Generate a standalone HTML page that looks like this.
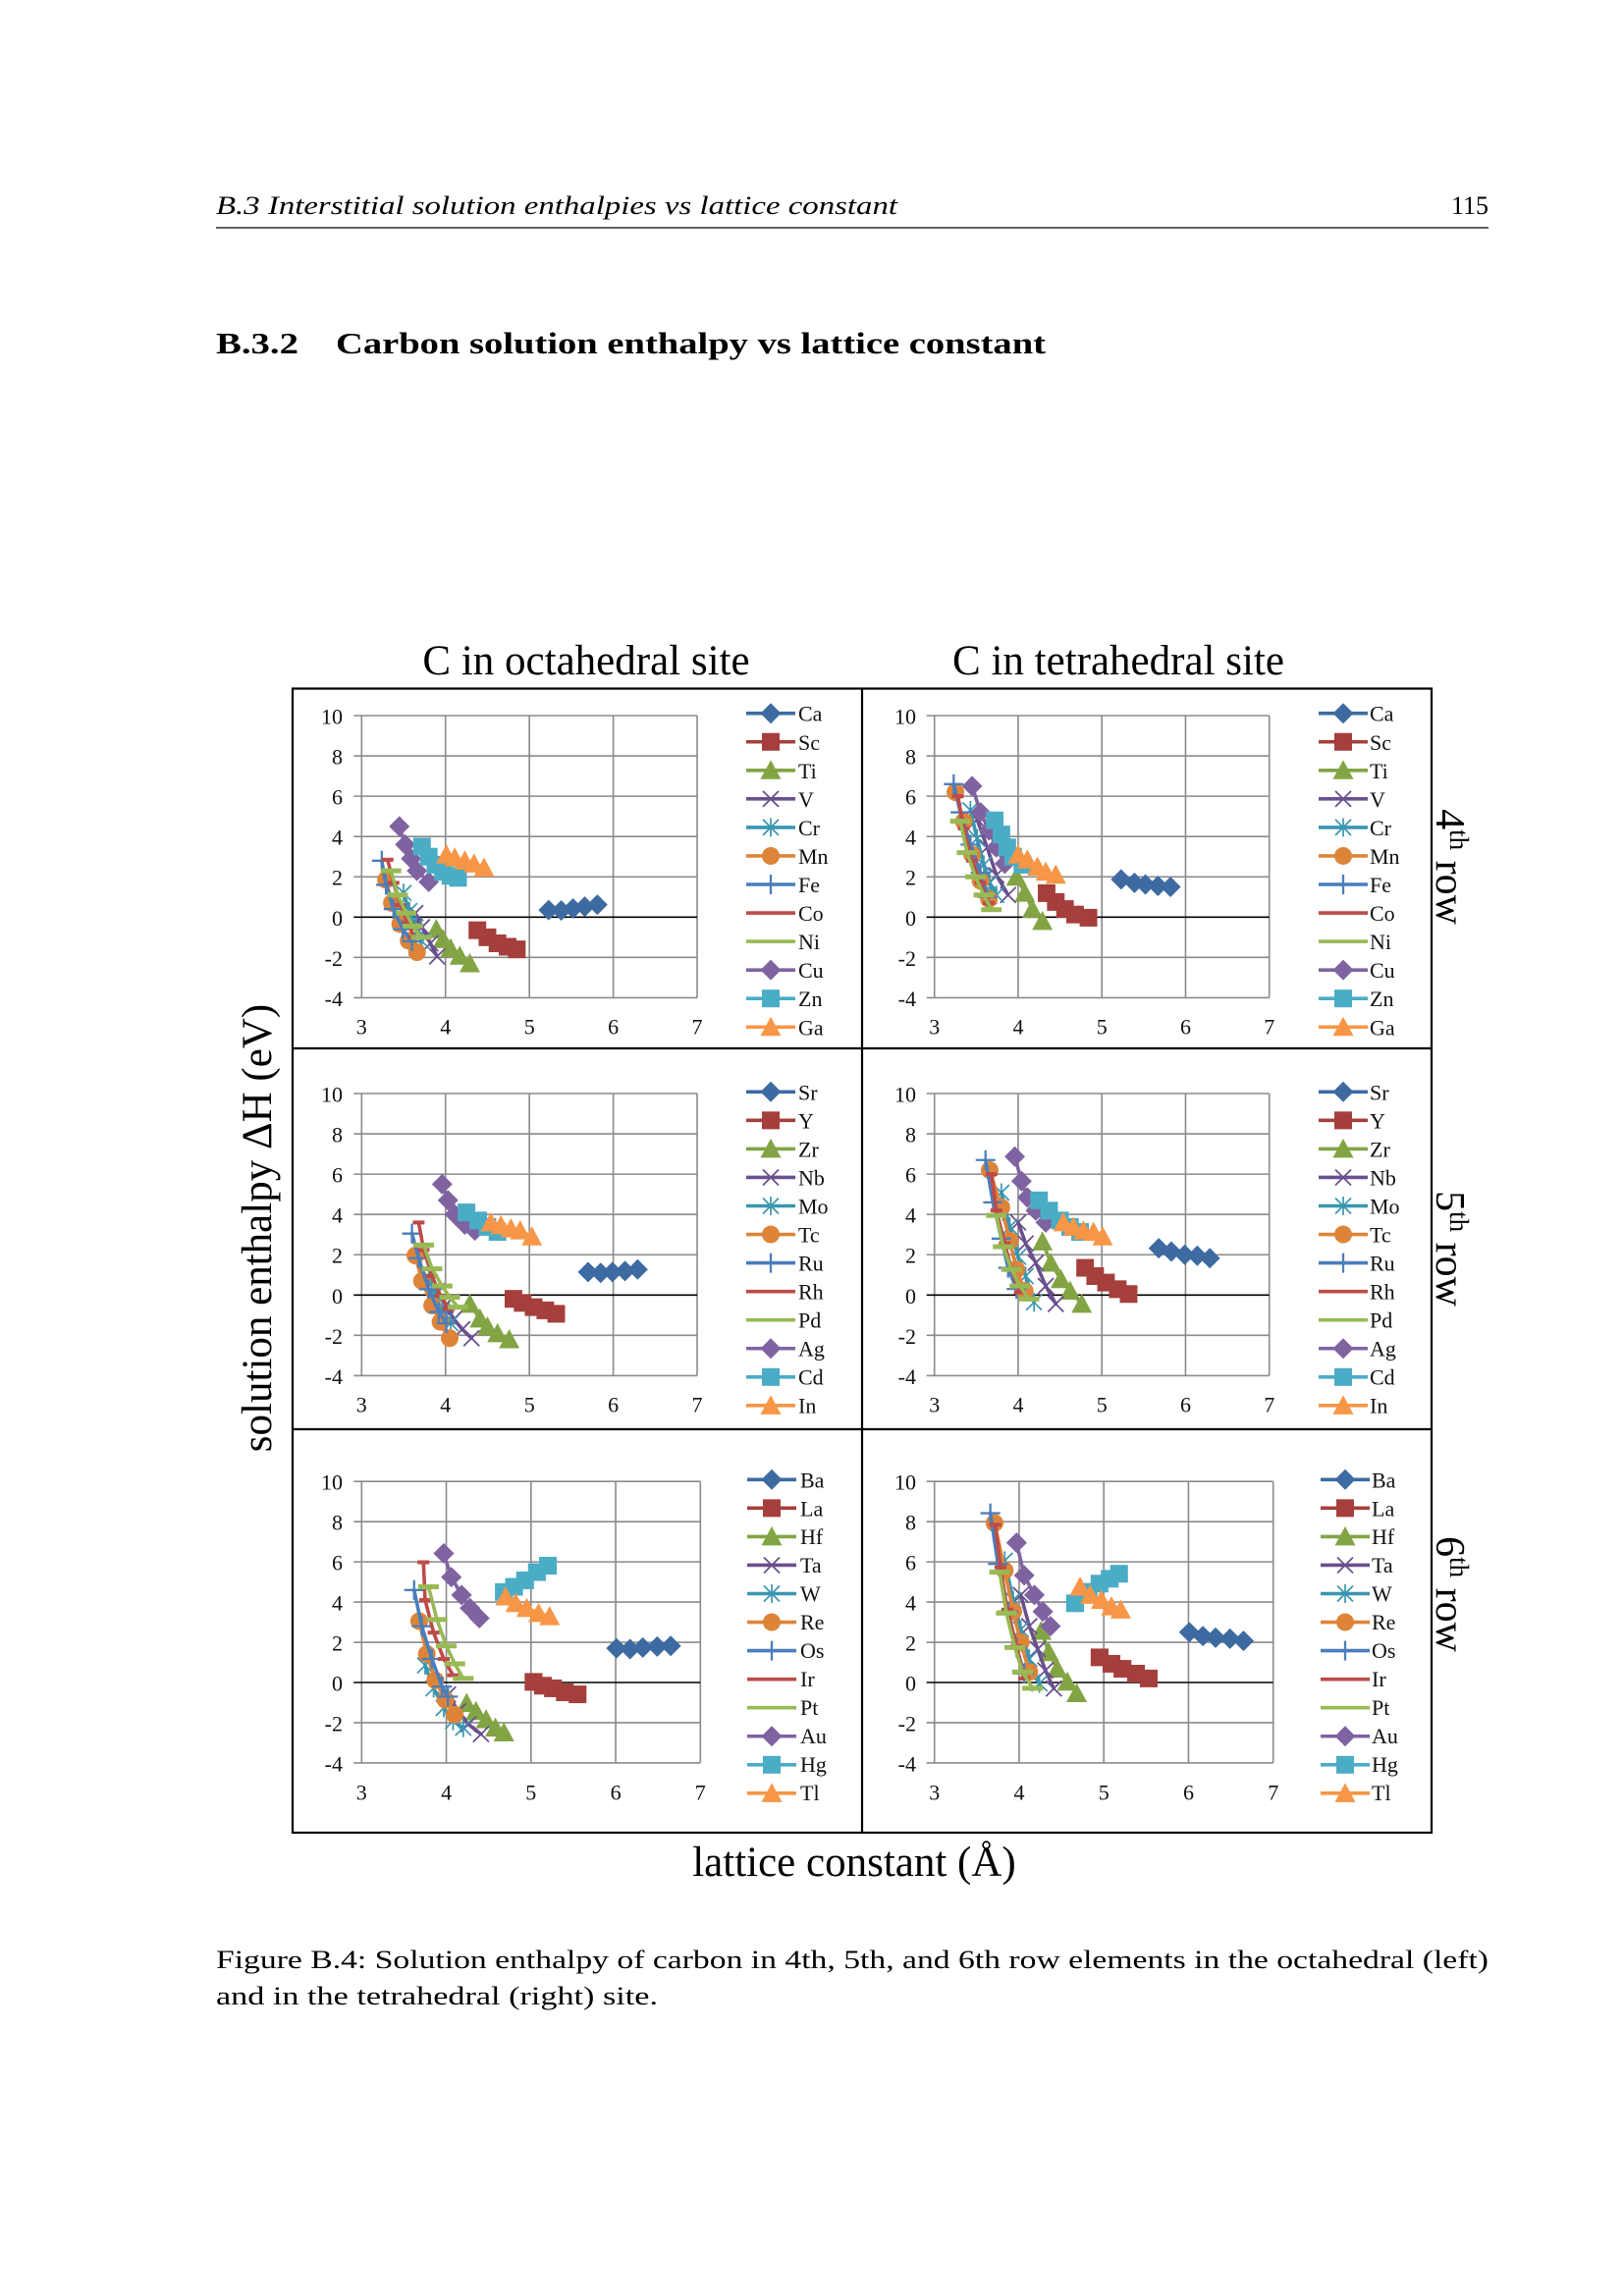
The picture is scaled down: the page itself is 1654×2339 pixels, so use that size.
<!DOCTYPE html>
<html><head><meta charset="utf-8">
<style>
html,body{margin:0;padding:0;background:#fff}
svg{display:block}
text{font-family:"Liberation Serif","Times New Roman",serif}
.ln{fill:none;stroke-width:3.6;vector-effect:non-scaling-stroke;stroke-linejoin:round;stroke-linecap:round}
.mk{fill:none;stroke:none}
.c1{stroke:#3D6AA1}.c2{stroke:#A53F3C}.c3{stroke:#83A444}.c4{stroke:#6A4F8E}.c5{stroke:#3A96B0}.c6{stroke:#DD8439}
.c7{stroke:#4A7EBB}.c8{stroke:#BE4B48}.c9{stroke:#98B954}.c10{stroke:#7F63A1}.c11{stroke:#4BACC6}.c12{stroke:#F79646}
.k1{marker:url(#d1)}.k2{marker:url(#d2)}.k3{marker:url(#d3)}.k4{marker:url(#d4)}.k5{marker:url(#d5)}.k6{marker:url(#d6)}
.k7{marker:url(#d7)}.k8{marker:url(#d8)}.k9{marker:url(#d9)}.k10{marker:url(#d10)}.k11{marker:url(#d11)}.k12{marker:url(#d12)}
.t{font-size:22px;fill:#111}
</style></head>
<body>
<svg width="1654" height="2339" viewBox="0 0 1654 2339" xmlns="http://www.w3.org/2000/svg" font-family="Liberation Serif, serif">
<rect width="1654" height="2339" fill="#fff"/>
<defs>
<polygon id="g1" fill="#3D6AA1" points="0,-10.5 10.5,0 0,10.5 -10.5,0"/>
<rect id="g2" fill="#A53F3C" x="-9" y="-9" width="18" height="18"/>
<polygon id="g3" fill="#83A444" points="0,-10.5 10.5,9 -10.5,9"/>
<path id="g4" stroke="#6A4F8E" stroke-width="1.8" fill="none" d="M-8,-8L8,8M-8,8L8,-8"/>
<path id="g5" stroke="#3A96B0" stroke-width="1.7" fill="none" d="M-8,-8L8,8M-8,8L8,-8M0,-9.5V9.5"/>
<circle id="g6" fill="#DD8439" r="9"/>
<path id="g7" stroke="#4A7EBB" stroke-width="2.3" fill="none" d="M-10,0H10M0,-10V10"/>
<rect id="g8" fill="#BE4B48" x="-6" y="-2" width="12" height="4"/>
<rect id="g9" fill="#98B954" x="-10.5" y="-2.5" width="21" height="5"/>
<polygon id="g10" fill="#7F63A1" points="0,-10.5 10.5,0 0,10.5 -10.5,0"/>
<rect id="g11" fill="#4BACC6" x="-9" y="-9" width="18" height="18"/>
<polygon id="g12" fill="#F79646" points="0,-10.5 10.5,9 -10.5,9"/>

<marker id="d1" markerUnits="userSpaceOnUse" markerWidth="0.1868" markerHeight="0.78" viewBox="-8 -8 16 16" preserveAspectRatio="none" overflow="visible"><use href="#g1"/></marker>
<marker id="d2" markerUnits="userSpaceOnUse" markerWidth="0.1868" markerHeight="0.78" viewBox="-8 -8 16 16" preserveAspectRatio="none" overflow="visible"><use href="#g2"/></marker>
<marker id="d3" markerUnits="userSpaceOnUse" markerWidth="0.1868" markerHeight="0.78" viewBox="-8 -8 16 16" preserveAspectRatio="none" overflow="visible"><use href="#g3"/></marker>
<marker id="d4" markerUnits="userSpaceOnUse" markerWidth="0.1868" markerHeight="0.78" viewBox="-8 -8 16 16" preserveAspectRatio="none" overflow="visible"><use href="#g4"/></marker>
<marker id="d5" markerUnits="userSpaceOnUse" markerWidth="0.1868" markerHeight="0.78" viewBox="-8 -8 16 16" preserveAspectRatio="none" overflow="visible"><use href="#g5"/></marker>
<marker id="d6" markerUnits="userSpaceOnUse" markerWidth="0.1868" markerHeight="0.78" viewBox="-8 -8 16 16" preserveAspectRatio="none" overflow="visible"><use href="#g6"/></marker>
<marker id="d7" markerUnits="userSpaceOnUse" markerWidth="0.1868" markerHeight="0.78" viewBox="-8 -8 16 16" preserveAspectRatio="none" overflow="visible"><use href="#g7"/></marker>
<marker id="d8" markerUnits="userSpaceOnUse" markerWidth="0.1868" markerHeight="0.78" viewBox="-8 -8 16 16" preserveAspectRatio="none" overflow="visible"><use href="#g8"/></marker>
<marker id="d9" markerUnits="userSpaceOnUse" markerWidth="0.1868" markerHeight="0.78" viewBox="-8 -8 16 16" preserveAspectRatio="none" overflow="visible"><use href="#g9"/></marker>
<marker id="d10" markerUnits="userSpaceOnUse" markerWidth="0.1868" markerHeight="0.78" viewBox="-8 -8 16 16" preserveAspectRatio="none" overflow="visible"><use href="#g10"/></marker>
<marker id="d11" markerUnits="userSpaceOnUse" markerWidth="0.1868" markerHeight="0.78" viewBox="-8 -8 16 16" preserveAspectRatio="none" overflow="visible"><use href="#g11"/></marker>
<marker id="d12" markerUnits="userSpaceOnUse" markerWidth="0.1868" markerHeight="0.78" viewBox="-8 -8 16 16" preserveAspectRatio="none" overflow="visible"><use href="#g12"/></marker>

<g id="grid">
<path d="M3,-10V4M4,-10V4M5,-10V4M6,-10V4M7,-10V4M2.906,-10H7M2.906,-8H7M2.906,-6H7M2.906,-4H7M2.906,-2H7M2.906,2H7M2.906,4H7" stroke="#8a8a8a" stroke-width="1.6" fill="none" vector-effect="non-scaling-stroke"/>
<path d="M2.906,0H7" stroke="#000" stroke-width="1.6" fill="none" vector-effect="non-scaling-stroke"/>
</g>

<g id="leg">
<line x1="0" x2="50" y1="0" y2="0" class="c1" stroke-width="3.6"/><use href="#g1" x="25" y="0"/>
<line x1="0" x2="50" y1="29.05" y2="29.05" class="c2" stroke-width="3.6"/><use href="#g2" x="25" y="29.05"/>
<line x1="0" x2="50" y1="58.1" y2="58.1" class="c3" stroke-width="3.6"/><use href="#g3" x="25" y="58.1"/>
<line x1="0" x2="50" y1="87.15" y2="87.15" class="c4" stroke-width="3.6"/><use href="#g4" x="25" y="87.15"/>
<line x1="0" x2="50" y1="116.2" y2="116.2" class="c5" stroke-width="3.6"/><use href="#g5" x="25" y="116.2"/>
<line x1="0" x2="50" y1="145.25" y2="145.25" class="c6" stroke-width="3.6"/><use href="#g6" x="25" y="145.25"/>
<line x1="0" x2="50" y1="174.3" y2="174.3" class="c7" stroke-width="3.6"/><use href="#g7" x="25" y="174.3"/>
<line x1="0" x2="50" y1="203.35" y2="203.35" class="c8" stroke-width="3.6"/>
<line x1="0" x2="50" y1="232.4" y2="232.4" class="c9" stroke-width="3.6"/>
<line x1="0" x2="50" y1="261.45" y2="261.45" class="c10" stroke-width="3.6"/><use href="#g10" x="25" y="261.45"/>
<line x1="0" x2="50" y1="290.5" y2="290.5" class="c11" stroke-width="3.6"/><use href="#g11" x="25" y="290.5"/>
<line x1="0" x2="50" y1="319.55" y2="319.55" class="c12" stroke-width="3.6"/><use href="#g12" x="25" y="319.55"/>
</g>
</defs>

<!-- Page header -->
<text x="220" y="218" font-size="26" font-style="italic" textLength="694" lengthAdjust="spacingAndGlyphs">B.3 Interstitial solution enthalpies vs lattice constant</text>
<text x="1516" y="218" font-size="26" text-anchor="end">115</text>
<line x1="220" x2="1516" y1="232" y2="232" stroke="#000" stroke-width="1.3"/>

<!-- Section heading -->
<text x="220" y="360" font-size="31" font-weight="bold" textLength="84" lengthAdjust="spacingAndGlyphs">B.3.2</text>
<text x="342" y="360" font-size="31" font-weight="bold" textLength="723" lengthAdjust="spacingAndGlyphs">Carbon solution enthalpy vs lattice constant</text>

<!-- Column titles -->
<text x="597" y="687" font-size="43" text-anchor="middle">C in octahedral site</text>
<text x="1139" y="687" font-size="43" text-anchor="middle">C in tetrahedral site</text>

<!-- Frame -->
<rect x="298" y="701.5" width="1160" height="1165.5" fill="none" stroke="#000" stroke-width="2.2"/>
<line x1="878" x2="878" y1="701" y2="1867" stroke="#000" stroke-width="2.2"/>
<line x1="298" x2="1458" y1="1068" y2="1068" stroke="#000" stroke-width="2.2"/>
<line x1="298" x2="1458" y1="1456" y2="1456" stroke="#000" stroke-width="2.2"/>

<!-- Axis titles -->
<text transform="translate(276,1251) rotate(-90)" font-size="43" text-anchor="middle">solution enthalpy ΔH (eV)</text>
<text x="870" y="1911" font-size="43" text-anchor="middle">lattice constant (Å)</text>

<!-- Row labels -->
<text transform="translate(1463,883) rotate(90)" font-size="42" text-anchor="middle">4<tspan font-size="27" dy="-14">th</tspan><tspan dy="14"> row</tspan></text>
<text transform="translate(1463,1272) rotate(90)" font-size="42" text-anchor="middle">5<tspan font-size="27" dy="-14">th</tspan><tspan dy="14"> row</tspan></text>
<text transform="translate(1463,1624) rotate(90)" font-size="42" text-anchor="middle">6<tspan font-size="27" dy="-14">th</tspan><tspan dy="14"> row</tspan></text>

<!-- ===== Tick labels ===== -->
<text class="t" text-anchor="end" x="349" y="737.5"><tspan x="349">10</tspan><tspan x="349" dy="41.06">8</tspan><tspan x="349" dy="41.06">6</tspan><tspan x="349" dy="41.06">4</tspan><tspan x="349" dy="41.06">2</tspan><tspan x="349" dy="41.06">0</tspan><tspan x="349" dy="41.06">-2</tspan><tspan x="349" dy="41.06">-4</tspan></text>
<text class="t" text-anchor="end" x="933" y="737.5"><tspan x="933">10</tspan><tspan x="933" dy="41.06">8</tspan><tspan x="933" dy="41.06">6</tspan><tspan x="933" dy="41.06">4</tspan><tspan x="933" dy="41.06">2</tspan><tspan x="933" dy="41.06">0</tspan><tspan x="933" dy="41.06">-2</tspan><tspan x="933" dy="41.06">-4</tspan></text>
<text class="t" text-anchor="end" x="349" y="1122.5"><tspan x="349">10</tspan><tspan x="349" dy="41.06">8</tspan><tspan x="349" dy="41.06">6</tspan><tspan x="349" dy="41.06">4</tspan><tspan x="349" dy="41.06">2</tspan><tspan x="349" dy="41.06">0</tspan><tspan x="349" dy="41.06">-2</tspan><tspan x="349" dy="41.06">-4</tspan></text>
<text class="t" text-anchor="end" x="933" y="1122.5"><tspan x="933">10</tspan><tspan x="933" dy="41.06">8</tspan><tspan x="933" dy="41.06">6</tspan><tspan x="933" dy="41.06">4</tspan><tspan x="933" dy="41.06">2</tspan><tspan x="933" dy="41.06">0</tspan><tspan x="933" dy="41.06">-2</tspan><tspan x="933" dy="41.06">-4</tspan></text>
<text class="t" text-anchor="end" x="349" y="1517.7"><tspan x="349">10</tspan><tspan x="349" dy="40.96">8</tspan><tspan x="349" dy="40.96">6</tspan><tspan x="349" dy="40.96">4</tspan><tspan x="349" dy="40.96">2</tspan><tspan x="349" dy="40.96">0</tspan><tspan x="349" dy="40.96">-2</tspan><tspan x="349" dy="40.96">-4</tspan></text>
<text class="t" text-anchor="end" x="933" y="1517.7"><tspan x="933">10</tspan><tspan x="933" dy="40.96">8</tspan><tspan x="933" dy="40.96">6</tspan><tspan x="933" dy="40.96">4</tspan><tspan x="933" dy="40.96">2</tspan><tspan x="933" dy="40.96">0</tspan><tspan x="933" dy="40.96">-2</tspan><tspan x="933" dy="40.96">-4</tspan></text>

<text class="t" text-anchor="middle" y="1053.5"><tspan x="368.3">3</tspan><tspan x="453.7">4</tspan><tspan x="539.2">5</tspan><tspan x="624.6">6</tspan><tspan x="710">7</tspan></text>
<text class="t" text-anchor="middle" y="1053.5"><tspan x="951.7">3</tspan><tspan x="1037">4</tspan><tspan x="1122.2">5</tspan><tspan x="1207.5">6</tspan><tspan x="1292.7">7</tspan></text>
<text class="t" text-anchor="middle" y="1438.5"><tspan x="368.3">3</tspan><tspan x="453.7">4</tspan><tspan x="539.2">5</tspan><tspan x="624.6">6</tspan><tspan x="710">7</tspan></text>
<text class="t" text-anchor="middle" y="1438.5"><tspan x="951.7">3</tspan><tspan x="1037">4</tspan><tspan x="1122.2">5</tspan><tspan x="1207.5">6</tspan><tspan x="1292.7">7</tspan></text>
<text class="t" text-anchor="middle" y="1833.5"><tspan x="368.3">3</tspan><tspan x="454.6">4</tspan><tspan x="540.8">5</tspan><tspan x="627.1">6</tspan><tspan x="713.3">7</tspan></text>
<text class="t" text-anchor="middle" y="1833.5"><tspan x="951.7">3</tspan><tspan x="1038">4</tspan><tspan x="1124.2">5</tspan><tspan x="1210.5">6</tspan><tspan x="1296.7">7</tspan></text>

<!-- ===== Legends ===== -->
<use href="#leg" x="760" y="726.7"/>
<use href="#leg" x="1343" y="726.7"/>
<use href="#leg" x="760" y="1112.3"/>
<use href="#leg" x="1343" y="1112.3"/>
<use href="#leg" x="761" y="1507.3"/>
<use href="#leg" x="1345" y="1507.3"/>

<text class="t" x="813" y="734.7"><tspan x="813">Ca</tspan><tspan x="813" dy="29.05">Sc</tspan><tspan x="813" dy="29.05">Ti</tspan><tspan x="813" dy="29.05">V</tspan><tspan x="813" dy="29.05">Cr</tspan><tspan x="813" dy="29.05">Mn</tspan><tspan x="813" dy="29.05">Fe</tspan><tspan x="813" dy="29.05">Co</tspan><tspan x="813" dy="29.05">Ni</tspan><tspan x="813" dy="29.05">Cu</tspan><tspan x="813" dy="29.05">Zn</tspan><tspan x="813" dy="29.05">Ga</tspan></text>
<text class="t" x="1395" y="734.7"><tspan x="1395">Ca</tspan><tspan x="1395" dy="29.05">Sc</tspan><tspan x="1395" dy="29.05">Ti</tspan><tspan x="1395" dy="29.05">V</tspan><tspan x="1395" dy="29.05">Cr</tspan><tspan x="1395" dy="29.05">Mn</tspan><tspan x="1395" dy="29.05">Fe</tspan><tspan x="1395" dy="29.05">Co</tspan><tspan x="1395" dy="29.05">Ni</tspan><tspan x="1395" dy="29.05">Cu</tspan><tspan x="1395" dy="29.05">Zn</tspan><tspan x="1395" dy="29.05">Ga</tspan></text>
<text class="t" x="813" y="1120.3"><tspan x="813">Sr</tspan><tspan x="813" dy="29.04">Y</tspan><tspan x="813" dy="29.04">Zr</tspan><tspan x="813" dy="29.04">Nb</tspan><tspan x="813" dy="29.04">Mo</tspan><tspan x="813" dy="29.04">Tc</tspan><tspan x="813" dy="29.04">Ru</tspan><tspan x="813" dy="29.04">Rh</tspan><tspan x="813" dy="29.04">Pd</tspan><tspan x="813" dy="29.04">Ag</tspan><tspan x="813" dy="29.04">Cd</tspan><tspan x="813" dy="29.04">In</tspan></text>
<text class="t" x="1395" y="1120.3"><tspan x="1395">Sr</tspan><tspan x="1395" dy="29.04">Y</tspan><tspan x="1395" dy="29.04">Zr</tspan><tspan x="1395" dy="29.04">Nb</tspan><tspan x="1395" dy="29.04">Mo</tspan><tspan x="1395" dy="29.04">Tc</tspan><tspan x="1395" dy="29.04">Ru</tspan><tspan x="1395" dy="29.04">Rh</tspan><tspan x="1395" dy="29.04">Pd</tspan><tspan x="1395" dy="29.04">Ag</tspan><tspan x="1395" dy="29.04">Cd</tspan><tspan x="1395" dy="29.04">In</tspan></text>
<text class="t" x="815" y="1515.3"><tspan x="815">Ba</tspan><tspan x="815" dy="28.97">La</tspan><tspan x="815" dy="28.97">Hf</tspan><tspan x="815" dy="28.97">Ta</tspan><tspan x="815" dy="28.97">W</tspan><tspan x="815" dy="28.97">Re</tspan><tspan x="815" dy="28.97">Os</tspan><tspan x="815" dy="28.97">Ir</tspan><tspan x="815" dy="28.97">Pt</tspan><tspan x="815" dy="28.97">Au</tspan><tspan x="815" dy="28.97">Hg</tspan><tspan x="815" dy="28.97">Tl</tspan></text>
<text class="t" x="1397" y="1515.3"><tspan x="1397">Ba</tspan><tspan x="1397" dy="28.97">La</tspan><tspan x="1397" dy="28.97">Hf</tspan><tspan x="1397" dy="28.97">Ta</tspan><tspan x="1397" dy="28.97">W</tspan><tspan x="1397" dy="28.97">Re</tspan><tspan x="1397" dy="28.97">Os</tspan><tspan x="1397" dy="28.97">Ir</tspan><tspan x="1397" dy="28.97">Pt</tspan><tspan x="1397" dy="28.97">Au</tspan><tspan x="1397" dy="28.97">Hg</tspan><tspan x="1397" dy="28.97">Tl</tspan></text>

<!-- ===== Panel 1: octahedral 4th row ===== -->
<g transform="translate(112.01,934.3) scale(85.43,20.53)">
<use href="#grid"/>
<polyline class="ln c1" points="5.23,-0.35 5.38,-0.33 5.52,-0.43 5.66,-0.52 5.81,-0.62"/><polyline class="mk k1" points="5.23,-0.35 5.38,-0.33 5.52,-0.43 5.66,-0.52 5.81,-0.62"/>
<polyline class="ln c2" points="4.38,0.65 4.5,1.0 4.62,1.3 4.74,1.47 4.85,1.6"/><polyline class="mk k2" points="4.38,0.65 4.5,1.0 4.62,1.3 4.74,1.47 4.85,1.6"/>
<polyline class="ln c3" points="3.89,0.6 3.97,1.1 4.06,1.55 4.17,1.92 4.29,2.3"/><polyline class="mk k3" points="3.89,0.6 3.97,1.1 4.06,1.55 4.17,1.92 4.29,2.3"/>
<polyline class="ln c4" points="3.64,-0.2 3.72,0.5 3.82,1.3 3.9,1.95"/><polyline class="mk k4" points="3.64,-0.2 3.72,0.5 3.82,1.3 3.9,1.95"/>
<polyline class="ln c5" points="3.5,-1.2 3.57,-0.3 3.64,0.5 3.72,1.2"/><polyline class="mk k5" points="3.5,-1.2 3.57,-0.3 3.64,0.5 3.72,1.2"/>
<polyline class="ln c6" points="3.29,-1.85 3.36,-0.7 3.46,0.35 3.56,1.17 3.66,1.74"/><polyline class="mk k6" points="3.29,-1.85 3.36,-0.7 3.46,0.35 3.56,1.17 3.66,1.74"/>
<polyline class="ln c7" points="3.24,-2.8 3.29,-1.6 3.38,-0.4 3.49,0.6 3.6,1.2"/><polyline class="mk k7" points="3.24,-2.8 3.29,-1.6 3.38,-0.4 3.49,0.6 3.6,1.2"/>
<polyline class="ln c8" points="3.31,-2.85 3.38,-1.7 3.46,-0.6 3.55,0.3 3.63,1.0"/><polyline class="mk k8" points="3.31,-2.85 3.38,-1.7 3.46,-0.6 3.55,0.3 3.63,1.0"/>
<polyline class="ln c9" points="3.35,-2.3 3.43,-1.1 3.53,-0.2 3.61,0.45 3.71,1.0"/><polyline class="mk k9" points="3.35,-2.3 3.43,-1.1 3.53,-0.2 3.61,0.45 3.71,1.0"/>
<polyline class="ln c10" points="3.45,-4.5 3.52,-3.6 3.59,-2.9 3.66,-2.3 3.8,-1.75"/><polyline class="mk k10" points="3.45,-4.5 3.52,-3.6 3.59,-2.9 3.66,-2.3 3.8,-1.75"/>
<polyline class="ln c11" points="3.72,-3.5 3.8,-3.0 3.88,-2.6 3.97,-2.25 4.06,-2.05 4.15,-1.95"/><polyline class="mk k11" points="3.72,-3.5 3.8,-3.0 3.88,-2.6 3.97,-2.25 4.06,-2.05 4.15,-1.95"/>
<polyline class="ln c12" points="4.01,-3.1 4.11,-2.95 4.23,-2.8 4.34,-2.65 4.46,-2.45"/><polyline class="mk k12" points="4.01,-3.1 4.11,-2.95 4.23,-2.8 4.34,-2.65 4.46,-2.45"/>
</g>

<!-- ===== Panel 2: tetrahedral 4th row ===== -->
<g transform="translate(695.95,934.3) scale(85.25,20.53)">
<use href="#grid"/>
<polyline class="ln c1" points="5.23,-1.87 5.39,-1.7 5.52,-1.62 5.67,-1.55 5.82,-1.5"/><polyline class="mk k1" points="5.23,-1.87 5.39,-1.7 5.52,-1.62 5.67,-1.55 5.82,-1.5"/>
<polyline class="ln c2" points="4.34,-1.19 4.45,-0.75 4.56,-0.4 4.68,-0.13 4.84,0.03"/><polyline class="mk k2" points="4.34,-1.19 4.45,-0.75 4.56,-0.4 4.68,-0.13 4.84,0.03"/>
<polyline class="ln c3" points="3.98,-2.0 4.08,-1.2 4.17,-0.4 4.29,0.2"/><polyline class="mk k3" points="3.98,-2.0 4.08,-1.2 4.17,-0.4 4.29,0.2"/>
<polyline class="ln c4" points="3.51,-4.84 3.63,-3.46 3.74,-2.08 3.88,-1.1"/><polyline class="mk k4" points="3.51,-4.84 3.63,-3.46 3.74,-2.08 3.88,-1.1"/>
<polyline class="ln c5" points="3.43,-5.3 3.51,-3.9 3.59,-2.6 3.66,-1.7 3.74,-1.1"/><polyline class="mk k5" points="3.43,-5.3 3.51,-3.9 3.59,-2.6 3.66,-1.7 3.74,-1.1"/>
<polyline class="ln c6" points="3.25,-6.2 3.35,-4.75 3.45,-3.1 3.55,-1.8 3.65,-0.9"/><polyline class="mk k6" points="3.25,-6.2 3.35,-4.75 3.45,-3.1 3.55,-1.8 3.65,-0.9"/>
<polyline class="ln c7" points="3.23,-6.6 3.31,-5.2 3.43,-3.6 3.55,-2.2 3.63,-1.0"/><polyline class="mk k7" points="3.23,-6.6 3.31,-5.2 3.43,-3.6 3.55,-2.2 3.63,-1.0"/>
<polyline class="ln c8" points="3.28,-6.0 3.35,-4.4 3.45,-2.8 3.55,-1.7 3.65,-0.7"/><polyline class="mk k8" points="3.28,-6.0 3.35,-4.4 3.45,-2.8 3.55,-1.7 3.65,-0.7"/>
<polyline class="ln c9" points="3.31,-4.76 3.39,-3.2 3.49,-2.0 3.59,-1.1 3.68,-0.37"/><polyline class="mk k9" points="3.31,-4.76 3.39,-3.2 3.49,-2.0 3.59,-1.1 3.68,-0.37"/>
<polyline class="ln c10" points="3.45,-6.5 3.55,-5.2 3.65,-4.3 3.74,-3.46 3.84,-2.65"/><polyline class="mk k10" points="3.45,-6.5 3.55,-5.2 3.65,-4.3 3.74,-3.46 3.84,-2.65"/>
<polyline class="ln c11" points="3.72,-4.8 3.8,-4.1 3.87,-3.46 3.94,-3.0 4.05,-2.6"/><polyline class="mk k11" points="3.72,-4.8 3.8,-4.1 3.87,-3.46 3.94,-3.0 4.05,-2.6"/>
<polyline class="ln c12" points="4.0,-3.1 4.11,-2.85 4.23,-2.5 4.33,-2.25 4.45,-2.1"/><polyline class="mk k12" points="4.0,-3.1 4.11,-2.85 4.23,-2.5 4.33,-2.25 4.45,-2.1"/>
</g>

<!-- ===== Panel 3: octahedral 5th row ===== -->
<g transform="translate(112.01,1319.3) scale(85.43,20.53)">
<use href="#grid"/>
<polyline class="ln c1" points="5.7,-1.14 5.85,-1.1 5.99,-1.14 6.14,-1.19 6.29,-1.27"/><polyline class="mk k1" points="5.7,-1.14 5.85,-1.1 5.99,-1.14 6.14,-1.19 6.29,-1.27"/>
<polyline class="ln c2" points="4.81,0.19 4.92,0.39 5.05,0.6 5.19,0.76 5.32,0.93"/><polyline class="mk k2" points="4.81,0.19 4.92,0.39 5.05,0.6 5.19,0.76 5.32,0.93"/>
<polyline class="ln c3" points="4.29,0.44 4.41,1.17 4.5,1.57 4.62,1.9 4.76,2.2"/><polyline class="mk k3" points="4.29,0.44 4.41,1.17 4.5,1.57 4.62,1.9 4.76,2.2"/>
<polyline class="ln c4" points="3.9,-0.2 4.0,0.5 4.1,1.2 4.2,1.7 4.31,2.14"/><polyline class="mk k4" points="3.9,-0.2 4.0,0.5 4.1,1.2 4.2,1.7 4.31,2.14"/>
<polyline class="ln c5" points="3.8,-0.9 3.88,0 3.96,0.8 4.06,1.4"/><polyline class="mk k5" points="3.8,-0.9 3.88,0 3.96,0.8 4.06,1.4"/>
<polyline class="ln c6" points="3.64,-1.96 3.72,-0.7 3.84,0.52 3.94,1.33 4.05,2.14"/><polyline class="mk k6" points="3.64,-1.96 3.72,-0.7 3.84,0.52 3.94,1.33 4.05,2.14"/>
<polyline class="ln c7" points="3.6,-3.05 3.68,-1.83 3.8,-0.29 3.92,0.84 4.01,1.4"/><polyline class="mk k7" points="3.6,-3.05 3.68,-1.83 3.8,-0.29 3.92,0.84 4.01,1.4"/>
<polyline class="ln c8" points="3.68,-3.6 3.74,-2.24 3.84,-0.94 3.94,0.03 4.04,0.7"/><polyline class="mk k8" points="3.68,-3.6 3.74,-2.24 3.84,-0.94 3.94,0.03 4.04,0.7"/>
<polyline class="ln c9" points="3.74,-2.48 3.84,-1.3 3.96,-0.45 4.05,0.11 4.15,0.6"/><polyline class="mk k9" points="3.74,-2.48 3.84,-1.3 3.96,-0.45 4.05,0.11 4.15,0.6"/>
<polyline class="ln c10" points="3.96,-5.5 4.03,-4.7 4.11,-4.0 4.23,-3.5 4.35,-3.2"/><polyline class="mk k10" points="3.96,-5.5 4.03,-4.7 4.11,-4.0 4.23,-3.5 4.35,-3.2"/>
<polyline class="ln c11" points="4.25,-4.1 4.39,-3.7 4.5,-3.38 4.62,-3.13"/><polyline class="mk k11" points="4.25,-4.1 4.39,-3.7 4.5,-3.38 4.62,-3.13"/>
<polyline class="ln c12" points="4.54,-3.6 4.66,-3.46 4.78,-3.3 4.89,-3.2 5.03,-2.9"/><polyline class="mk k12" points="4.54,-3.6 4.66,-3.46 4.78,-3.3 4.89,-3.2 5.03,-2.9"/>
</g>

<!-- ===== Panel 4: tetrahedral 5th row ===== -->
<g transform="translate(695.95,1319.3) scale(85.25,20.53)">
<use href="#grid"/>
<polyline class="ln c1" points="5.68,-2.32 5.83,-2.16 5.99,-2.0 6.14,-1.95 6.29,-1.83"/><polyline class="mk k1" points="5.68,-2.32 5.83,-2.16 5.99,-2.0 6.14,-1.95 6.29,-1.83"/>
<polyline class="ln c2" points="4.8,-1.35 4.92,-0.94 5.05,-0.62 5.19,-0.29 5.32,-0.05"/><polyline class="mk k2" points="4.8,-1.35 4.92,-0.94 5.05,-0.62 5.19,-0.29 5.32,-0.05"/>
<polyline class="ln c3" points="4.29,-2.65 4.39,-1.6 4.51,-0.78 4.62,-0.21 4.76,0.44"/><polyline class="mk k3" points="4.29,-2.65 4.39,-1.6 4.51,-0.78 4.62,-0.21 4.76,0.44"/>
<polyline class="ln c4" points="4.0,-3.6 4.09,-2.56 4.21,-1.6 4.33,-0.45 4.45,0.44"/><polyline class="mk k4" points="4.0,-3.6 4.09,-2.56 4.21,-1.6 4.33,-0.45 4.45,0.44"/>
<polyline class="ln c5" points="3.8,-5.08 3.9,-3.38 4.0,-1.9 4.09,-0.94 4.19,0.36"/><polyline class="mk k5" points="3.8,-5.08 3.9,-3.38 4.0,-1.9 4.09,-0.94 4.19,0.36"/>
<polyline class="ln c6" points="3.66,-6.2 3.8,-4.35 3.9,-2.7 3.98,-1.27 4.08,-0.2"/><polyline class="mk k6" points="3.66,-6.2 3.8,-4.35 3.9,-2.7 3.98,-1.27 4.08,-0.2"/>
<polyline class="ln c7" points="3.61,-6.7 3.7,-4.6 3.8,-2.8 3.88,-1.35 3.98,-0.3"/><polyline class="mk k7" points="3.61,-6.7 3.7,-4.6 3.8,-2.8 3.88,-1.35 3.98,-0.3"/>
<polyline class="ln c8" points="3.68,-6.0 3.74,-4.2 3.84,-2.56 3.92,-1.27 4.02,-0.13"/><polyline class="mk k8" points="3.68,-6.0 3.74,-4.2 3.84,-2.56 3.92,-1.27 4.02,-0.13"/>
<polyline class="ln c9" points="3.74,-3.95 3.82,-2.4 3.92,-1.27 4.02,-0.45 4.13,0.2"/><polyline class="mk k9" points="3.74,-3.95 3.82,-2.4 3.92,-1.27 4.02,-0.45 4.13,0.2"/>
<polyline class="ln c10" points="3.96,-6.87 4.04,-5.65 4.11,-4.84 4.21,-4.19 4.33,-3.6"/><polyline class="mk k10" points="3.96,-6.87 4.04,-5.65 4.11,-4.84 4.21,-4.19 4.33,-3.6"/>
<polyline class="ln c11" points="4.25,-4.7 4.37,-4.19 4.5,-3.7 4.62,-3.38 4.74,-3.13"/><polyline class="mk k11" points="4.25,-4.7 4.37,-4.19 4.5,-3.7 4.62,-3.38 4.74,-3.13"/>
<polyline class="ln c12" points="4.54,-3.6 4.66,-3.38 4.78,-3.2 4.9,-3.13 5.01,-2.9"/><polyline class="mk k12" points="4.54,-3.6 4.66,-3.38 4.78,-3.2 4.9,-3.13 5.01,-2.9"/>
</g>

<!-- ===== Panel 5: octahedral 6th row ===== -->
<g transform="translate(109.55,1714) scale(86.25,20.48)">
<use href="#grid"/>
<polyline class="ln c1" points="6.01,-1.7 6.17,-1.66 6.32,-1.74 6.49,-1.79 6.65,-1.82"/><polyline class="mk k1" points="6.01,-1.7 6.17,-1.66 6.32,-1.74 6.49,-1.79 6.65,-1.82"/>
<polyline class="ln c2" points="5.03,-0.03 5.14,0.16 5.26,0.29 5.4,0.49 5.55,0.59"/><polyline class="mk k2" points="5.03,-0.03 5.14,0.16 5.26,0.29 5.4,0.49 5.55,0.59"/>
<polyline class="ln c3" points="4.24,1.03 4.35,1.43 4.47,1.84 4.58,2.25 4.68,2.49"/><polyline class="mk k3" points="4.24,1.03 4.35,1.43 4.47,1.84 4.58,2.25 4.68,2.49"/>
<polyline class="ln c4" points="4.02,0.6 4.14,1.43 4.26,2.08 4.41,2.57"/><polyline class="mk k4" points="4.02,0.6 4.14,1.43 4.26,2.08 4.41,2.57"/>
<polyline class="ln c5" points="3.75,-0.85 3.85,0.29 3.97,1.27 4.08,1.92 4.2,2.25"/><polyline class="mk k5" points="3.75,-0.85 3.85,0.29 3.97,1.27 4.08,1.92 4.2,2.25"/>
<polyline class="ln c6" points="3.68,-3.05 3.77,-1.42 3.87,-0.11 3.99,0.86 4.1,1.6"/><polyline class="mk k6" points="3.68,-3.05 3.77,-1.42 3.87,-0.11 3.99,0.86 4.1,1.6"/>
<polyline class="ln c7" points="3.62,-4.6 3.71,-2.8 3.83,-1.17 3.95,0.2 4.02,0.7"/><polyline class="mk k7" points="3.62,-4.6 3.71,-2.8 3.83,-1.17 3.95,0.2 4.02,0.7"/>
<polyline class="ln c8" points="3.73,-5.98 3.75,-4.1 3.85,-2.48 3.97,-1.17 4.08,-0.36"/><polyline class="mk k8" points="3.73,-5.98 3.75,-4.1 3.85,-2.48 3.97,-1.17 4.08,-0.36"/>
<polyline class="ln c9" points="3.79,-4.76 3.89,-3.13 4.0,-1.82 4.1,-0.93 4.2,-0.2"/><polyline class="mk k9" points="3.79,-4.76 3.89,-3.13 4.0,-1.82 4.1,-0.93 4.2,-0.2"/>
<polyline class="ln c10" points="3.97,-6.42 4.06,-5.24 4.18,-4.35 4.28,-3.7 4.39,-3.2"/><polyline class="mk k10" points="3.97,-6.42 4.06,-5.24 4.18,-4.35 4.28,-3.7 4.39,-3.2"/>
<polyline class="ln c11" points="4.68,-4.5 4.8,-4.76 4.93,-5.08 5.07,-5.49 5.2,-5.81"/><polyline class="mk k11" points="4.68,-4.5 4.8,-4.76 4.93,-5.08 5.07,-5.49 5.2,-5.81"/>
<polyline class="ln c12" points="4.7,-4.27 4.82,-3.94 4.95,-3.7 5.09,-3.45 5.22,-3.29"/><polyline class="mk k12" points="4.7,-4.27 4.82,-3.94 4.95,-3.7 5.09,-3.45 5.22,-3.29"/>
</g>

<!-- ===== Panel 6: tetrahedral 6th row ===== -->
<g transform="translate(692.95,1714) scale(86.25,20.48)">
<use href="#grid"/>
<polyline class="ln c1" points="6.01,-2.5 6.17,-2.31 6.32,-2.23 6.49,-2.18 6.65,-2.07"/><polyline class="mk k1" points="6.01,-2.5 6.17,-2.31 6.32,-2.23 6.49,-2.18 6.65,-2.07"/>
<polyline class="ln c2" points="4.95,-1.25 5.09,-0.93 5.22,-0.68 5.38,-0.44 5.53,-0.2"/><polyline class="mk k2" points="4.95,-1.25 5.09,-0.93 5.22,-0.68 5.38,-0.44 5.53,-0.2"/>
<polyline class="ln c3" points="4.26,-2.56 4.35,-1.5 4.45,-0.68 4.57,-0.03 4.68,0.54"/><polyline class="mk k3" points="4.26,-2.56 4.35,-1.5 4.45,-0.68 4.57,-0.03 4.68,0.54"/>
<polyline class="ln c4" points="4.02,-4.35 4.12,-2.8 4.22,-1.66 4.31,-0.6 4.41,0.3"/><polyline class="mk k4" points="4.02,-4.35 4.12,-2.8 4.22,-1.66 4.31,-0.6 4.41,0.3"/>
<polyline class="ln c5" points="3.83,-6.06 3.93,-4.1 4.02,-2.64 4.12,-1.17 4.24,0.05"/><polyline class="mk k5" points="3.83,-6.06 3.93,-4.1 4.02,-2.64 4.12,-1.17 4.24,0.05"/>
<polyline class="ln c6" points="3.71,-7.93 3.83,-5.57 3.93,-3.53 4.02,-2.0 4.12,-0.52"/><polyline class="mk k6" points="3.71,-7.93 3.83,-5.57 3.93,-3.53 4.02,-2.0 4.12,-0.52"/>
<polyline class="ln c7" points="3.66,-8.42 3.75,-5.9 3.87,-3.53 3.97,-1.74 4.06,-0.44"/><polyline class="mk k7" points="3.66,-8.42 3.75,-5.9 3.87,-3.53 3.97,-1.74 4.06,-0.44"/>
<polyline class="ln c8" points="3.72,-7.85 3.78,-5.73 3.86,-3.62 3.97,-1.82 4.06,-0.2"/><polyline class="mk k8" points="3.72,-7.85 3.78,-5.73 3.86,-3.62 3.97,-1.82 4.06,-0.2"/>
<polyline class="ln c9" points="3.77,-5.49 3.85,-3.45 3.95,-1.74 4.04,-0.52 4.16,0.29"/><polyline class="mk k9" points="3.77,-5.49 3.85,-3.45 3.95,-1.74 4.04,-0.52 4.16,0.29"/>
<polyline class="ln c10" points="3.97,-6.95 4.06,-5.33 4.18,-4.35 4.28,-3.53 4.37,-2.8"/><polyline class="mk k10" points="3.97,-6.95 4.06,-5.33 4.18,-4.35 4.28,-3.53 4.37,-2.8"/>
<polyline class="ln c11" points="4.66,-3.94 4.82,-4.51 4.95,-4.92 5.07,-5.16 5.18,-5.41"/><polyline class="mk k11" points="4.66,-3.94 4.82,-4.51 4.95,-4.92 5.07,-5.16 5.18,-5.41"/>
<polyline class="ln c12" points="4.72,-4.76 4.84,-4.35 4.97,-4.1 5.09,-3.78 5.2,-3.62"/><polyline class="mk k12" points="4.72,-4.76 4.84,-4.35 4.97,-4.1 5.09,-3.78 5.2,-3.62"/>
</g>

<!-- Caption -->
<text x="220" y="2005" font-size="26" textLength="1296" lengthAdjust="spacingAndGlyphs">Figure B.4: Solution enthalpy of carbon in 4th, 5th, and 6th row elements in the octahedral (left)</text>
<text x="220" y="2042" font-size="26" textLength="450" lengthAdjust="spacingAndGlyphs">and in the tetrahedral (right) site.</text>
</svg>
</body></html>
